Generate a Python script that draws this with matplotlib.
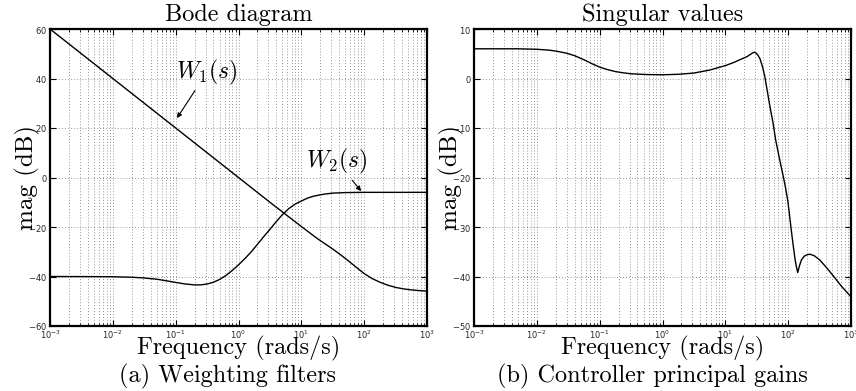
import numpy as np
import matplotlib
matplotlib.use('Agg')
import matplotlib.pyplot as plt
from matplotlib.ticker import LogLocator, MultipleLocator, NullFormatter

# (frequency in rad/s, magnitude in dB)
w1_freq = [0.001, 0.01, 0.1, 1.0, 3.16, 10, 17.8, 31.6, 42, 56.2, 75, 100, 133, 178, 237, 316,
           422, 562, 750, 1000]
w1_mag = [60, 40, 20, 0, -10, -19.8, -24.6, -28.9, -31.2, -33.7, -36.3, -38.8, -40.8, -42.3, -43.5, -44.4,
          -45.0, -45.4, -45.7, -45.9]

w2_freq = [0.001, 0.005, 0.01, 0.02, 0.03, 0.05, 0.07, 0.1, 0.14, 0.2, 0.25, 0.32, 0.4, 0.5, 0.63,
           0.8, 1.0, 1.26, 1.6, 2.0, 2.5, 3.2, 4.0, 5.0, 6.3, 7.9, 10, 12.6, 16, 20, 25, 32, 50,
           100, 1000]
w2_mag = [-40, -40.05, -40.1, -40.3, -40.55, -41.1, -41.7, -42.4, -43.0, -43.4, -43.4, -43.0, -42.3, -41.2,
          -39.6, -37.5, -35.3, -32.8, -30.0, -27.0, -24.0, -20.8, -17.8, -15.0, -12.6, -10.8, -9.5,
          -8.3, -7.5, -7.0, -6.6, -6.3, -6.1, -6.0, -6.0]

k_freq = [0.001, 0.005, 0.01, 0.015, 0.02, 0.03, 0.04, 0.056, 0.075, 0.1, 0.133, 0.178, 0.237,
          0.316, 0.56, 1.0, 1.78, 3.16, 5.6, 10, 14, 17.8, 22, 25, 27, 28.8, 30.5, 33, 35.6,
          39, 42.5, 51, 57.5, 63, 73, 82, 90, 99, 106, 113, 121, 128, 135, 142, 150, 162,
          180, 200, 223, 260, 321, 420, 524, 708, 1000]
k_mag = [6.0, 6.0, 5.9, 5.75, 5.55, 5.1, 4.6, 3.8, 3.0, 2.3, 1.8, 1.4, 1.15,
         0.95, 0.8, 0.75, 0.85, 1.1, 1.7, 2.6, 3.3, 3.9, 4.4, 4.85, 5.15, 5.3, 5.2, 4.7, 4.0,
         2.4, 0.4, -5.5, -9.0, -12.3, -16.3, -19.3, -21.8, -24.8, -28.0, -31.0, -34.0, -36.3,
         -38.0, -39.2, -38.0, -36.7, -35.9, -35.6, -35.5, -35.8, -36.7, -38.4, -39.9, -42.0, -44.1]

titles = ['Bode diagram', 'Singular values']
captions = ['(a) Weighting filters', '(b) Controller principal gains']

serif = 'cmr10'
plt.rcParams['axes.formatter.use_mathtext'] = True

W, H = 856, 391
fig = plt.figure(figsize=(W / 100, H / 100), dpi=100)

ax1 = fig.add_axes([50 / W, 1 - 326 / H, 377 / W, 297 / H])
ax2 = fig.add_axes([474 / W, 1 - 326 / H, 377 / W, 297 / H])

ax1.plot(w1_freq, w1_mag, color='black', lw=1.0)
ax1.plot(w2_freq, w2_mag, color='black', lw=1.0)
ax2.plot(k_freq, k_mag, color='black', lw=1.0)

ax1.set_ylim(-60, 60)
ax1.yaxis.set_major_locator(MultipleLocator(20))
ax2.set_ylim(-50, 10)
ax2.yaxis.set_major_locator(MultipleLocator(10))

for i, ax in enumerate([ax1, ax2]):
    ax.set_xscale('log')
    ax.set_xlim(1e-3, 1e3)
    ax.xaxis.set_major_locator(LogLocator(base=10, numticks=10))
    ax.xaxis.set_minor_locator(LogLocator(base=10, subs=np.arange(2, 10), numticks=20))
    ax.xaxis.set_minor_formatter(NullFormatter())
    ax.grid(True, which='major', axis='both', color='0.45', ls=(0, (1, 2.5)), lw=0.6)
    ax.grid(True, which='minor', axis='x', color='0.45', ls=(0, (1, 2.5)), lw=0.6)
    ax.tick_params(which='both', direction='in', top=True, right=True, labelsize=6, pad=2,
                   colors='black', labelcolor='0.15')
    ax.tick_params(which='major', length=4, width=0.8)
    ax.tick_params(which='minor', length=2, width=0.6)
    for s in ax.spines.values():
        s.set_linewidth(1.6)
    ax.text(0.5, 1.027, titles[i], transform=ax.transAxes, ha='center', va='baseline',
            fontsize=17.5, family=serif)
    ax.text(-0.06, 0.5, 'mag (dB)', transform=ax.transAxes, rotation=90, ha='center',
            va='center', fontsize=18, family=serif)
    ax.text(0.5, -0.074, 'Frequency (rads/s)', transform=ax.transAxes, ha='center',
            va='center', fontsize=17.5, family=serif)

fig.text(228 / W, 1 - 376 / H, captions[0], ha='center', va='center', fontsize=17.5, family=serif)
fig.text(652 / W, 1 - 376 / H, captions[1], ha='center', va='center', fontsize=17.5, family=serif)

# labels with arrows
ax1.annotate(r'$W_1(s)$', xy=(0.105, 24), xytext=(0.316, 42.6), ha='center', va='center',
             fontsize=17, math_fontfamily='cm',
             arrowprops=dict(arrowstyle='-|>', color='black', lw=0.8, mutation_scale=7,
                             shrinkA=1, shrinkB=0))
ax1.annotate(r'$W_2(s)$', xy=(89.5, -5.5), xytext=(37, 6.3), ha='center', va='center',
             fontsize=17, math_fontfamily='cm',
             arrowprops=dict(arrowstyle='-|>', color='black', lw=0.8, mutation_scale=7,
                             shrinkA=1, shrinkB=0))

fig.savefig('out.png', dpi=100)
